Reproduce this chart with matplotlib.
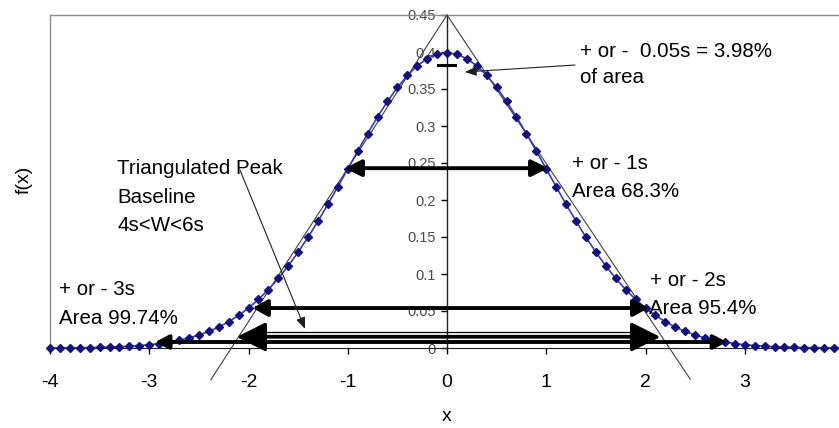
import matplotlib
matplotlib.use("Agg")
import matplotlib.pyplot as plt
from matplotlib.patches import FancyArrowPatch, ArrowStyle

plt.rcParams['font.family'] = ['Liberation Sans', 'DejaVu Sans']
plt.rcParams['axes.unicode_minus'] = False

# ---------------- data ----------------
x_vals = [-4.0, -3.9, -3.8, -3.7, -3.6, -3.5, -3.4, -3.3, -3.2, -3.1,
          -3.0, -2.9, -2.8, -2.7, -2.6, -2.5, -2.4, -2.3, -2.2, -2.1,
          -2.0, -1.9, -1.8, -1.7, -1.6, -1.5, -1.4, -1.3, -1.2, -1.1,
          -1.0, -0.9, -0.8, -0.7, -0.6, -0.5, -0.4, -0.3, -0.2, -0.1,
          0.0, 0.1, 0.2, 0.3, 0.4, 0.5, 0.6, 0.7, 0.8, 0.9,
          1.0, 1.1, 1.2, 1.3, 1.4, 1.5, 1.6, 1.7, 1.8, 1.9,
          2.0, 2.1, 2.2, 2.3, 2.4, 2.5, 2.6, 2.7, 2.8, 2.9,
          3.0, 3.1, 3.2, 3.3, 3.4, 3.5, 3.6, 3.7, 3.8, 3.9, 4.0]
f_vals = [0.0001, 0.0002, 0.0003, 0.0004, 0.0006, 0.0009, 0.0012, 0.0017, 0.0024, 0.0033,
          0.0044, 0.0060, 0.0079, 0.0104, 0.0136, 0.0175, 0.0224, 0.0283, 0.0355, 0.0440,
          0.0540, 0.0656, 0.0790, 0.0940, 0.1109, 0.1295, 0.1497, 0.1714, 0.1942, 0.2179,
          0.2420, 0.2661, 0.2897, 0.3123, 0.3332, 0.3521, 0.3683, 0.3814, 0.3910, 0.3970,
          0.3989, 0.3970, 0.3910, 0.3814, 0.3683, 0.3521, 0.3332, 0.3123, 0.2897, 0.2661,
          0.2420, 0.2179, 0.1942, 0.1714, 0.1497, 0.1295, 0.1109, 0.0940, 0.0790, 0.0656,
          0.0540, 0.0440, 0.0355, 0.0283, 0.0224, 0.0175, 0.0136, 0.0104, 0.0079, 0.0060,
          0.0044, 0.0033, 0.0024, 0.0017, 0.0012, 0.0009, 0.0006, 0.0004, 0.0003, 0.0002, 0.0001]

x_ticks = [-4, -3, -2, -1, 0, 1, 2, 3, 4]
x_tick_labels = ['-4', '-3', '-2', '-1', '0', '1', '2', '3', '4']
y_ticks = [0, 0.05, 0.1, 0.15, 0.2, 0.25, 0.3, 0.35, 0.4, 0.45]
y_tick_labels = ['0', '0.05', '0.1', '0.15', '0.2', '0.25', '0.3', '0.35', '0.4', '0.45']

# triangulated peak (tangent lines)
tri_x = [-2.38, 0.0, 2.45]
tri_y = [-0.043, 0.45, -0.042]

# horizontal width arrows: (x_left, x_right, y)
arrow_1s = (-1.03, 1.02, 0.243)
arrow_2s = (-1.96, 2.03, 0.054)
arrow_base = (-2.12, 2.15, 0.0149)
arrow_3s = (-2.94, 2.82, 0.0081)
base_thin_y = [0.0216, 0.0176]

# peak marker (+/- 0.05s)
peak_dash_x = [-0.09, 0.08]
peak_dash_y = 0.382

# ---------------- figure ----------------
W, H = 839, 428
fig = plt.figure(figsize=(W / 100, H / 100), dpi=100)
ax = fig.add_axes([50 / W, (H - 348) / H, (844 - 50) / W, (348 - 15) / H])
ax.set_xlim(-4, 4)
ax.set_ylim(0, 0.45)

ax.spines['right'].set_visible(False)
ax.spines['top'].set_color('#8c8c8c')
ax.spines['top'].set_linewidth(1.0)
ax.spines['left'].set_position(('data', 0))
ax.spines['left'].set_color('#202020')
ax.spines['left'].set_linewidth(1.0)
ax.spines['bottom'].set_color('#202020')
ax.axvline(-4, color='#8c8c8c', lw=1.0, clip_on=False, zorder=1)

ax.set_xticks(x_ticks)
ax.set_xticklabels(x_tick_labels, fontsize=14)
ax.set_yticks(y_ticks)
ax.set_yticklabels(y_tick_labels, fontsize=10.5, color='#4a4a4a')
ax.tick_params(axis='x', direction='out', length=4, width=1, pad=15)
ax.tick_params(axis='y', direction='out', length=4, width=1, pad=4)

ax.set_xlabel('x', fontsize=14, labelpad=12)
fig.text(24 / W, 1 - 180 / H, 'f(x)', rotation=90, fontsize=14,
         ha='center', va='center')

# curve
ax.plot(x_vals, f_vals, color='#3a3ab0', lw=1.2, zorder=4, clip_on=False)
ax.plot(x_vals, f_vals, ls='none', marker='D', ms=3.6, color='#12127a',
        zorder=4, clip_on=False)

# triangle
ax.plot(tri_x, tri_y, color='#404040', lw=0.8, clip_on=False, zorder=3)


def harrow(spec, hl, hw, lw):
    x0, x1, y = spec
    p = FancyArrowPatch((x0, y), (x1, y),
                        arrowstyle=ArrowStyle('<|-|>', head_length=hl, head_width=hw),
                        mutation_scale=1, lw=lw, color='black',
                        shrinkA=0, shrinkB=0, zorder=6, clip_on=False)
    ax.add_patch(p)


harrow(arrow_1s, 10, 5, 2.8)
harrow(arrow_2s, 9, 5, 2.8)
for yy in base_thin_y:
    ax.plot([arrow_base[0] + 0.2, arrow_base[1] - 0.2], [yy, yy], color='black', lw=0.9,
            zorder=6)
harrow(arrow_base, 18, 9, 2.4)
harrow(arrow_3s, 8, 4.2, 2.8)

# peak dash
ax.plot(peak_dash_x, [peak_dash_y, peak_dash_y], color='black', lw=2.2, zorder=6)


def pointer(x0, y0, x1, y1):
    p = FancyArrowPatch((x0, y0), (x1, y1),
                        arrowstyle=ArrowStyle('-|>', head_length=7, head_width=2.8),
                        mutation_scale=1, lw=0.8, color='#202020',
                        shrinkA=0, shrinkB=0, zorder=6, clip_on=False)
    ax.add_patch(p)


pointer(1.29, 0.3824, 0.18, 0.373)
pointer(-2.086, 0.2405, -1.43, 0.0257)

# texts (pixel positions, left aligned, baseline)
def ptext(px, py, s):
    fig.text(px / W, 1 - py / H, s, fontsize=14.8, ha='left', va='baseline', zorder=7)


ptext(580, 57, '+ or -  0.05s = 3.98%')
ptext(580, 83, 'of area')
ptext(572, 169, '+ or - 1s')
ptext(572, 197, 'Area 68.3%')
ptext(117, 174, 'Triangulated Peak')
ptext(117, 202.7, 'Baseline')
ptext(117, 230.7, '4s<W<6s')
ptext(650, 286, '+ or - 2s')
ptext(649, 314, 'Area 95.4%')
ptext(59, 295, '+ or - 3s')
ptext(59, 324, 'Area 99.74%')

fig.savefig('out.png', dpi=100)
